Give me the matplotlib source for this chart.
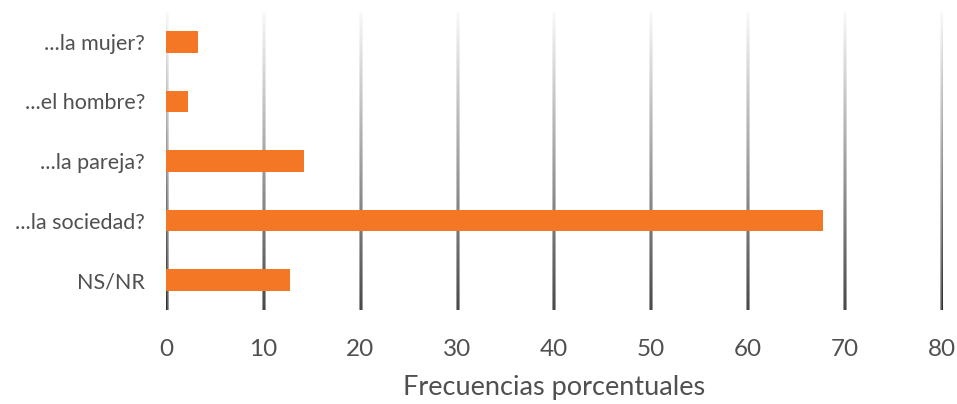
import numpy as np
import matplotlib
matplotlib.use("Agg")
import matplotlib.pyplot as plt

categories = ["...la mujer?", "...el hombre?", "...la pareja?", "...la sociedad?", "NS/NR"]
values = [3.3, 2.2, 14.2, 67.8, 12.8]
x_ticks = [0, 10, 20, 30, 40, 50, 60, 70, 80]
x_title = "Frecuencias porcentuales"

bar_color = "#F47725"
text_color = "#505050"

plt.rcParams["font.family"] = ["Lato", "DejaVu Sans"]

fig = plt.figure(figsize=(9.57, 4.04), dpi=100)
ax = fig.add_axes([166 / 957, 1 - 310 / 404, (942 - 166) / 957, (310 - 12) / 404])

n = len(categories)
y = np.arange(n)
ax.barh(y, values, height=0.36, color=bar_color, zorder=3)

# gradient gridlines: light at the top, dark at the bottom, with soft edges
rows = 256
top_c = np.array([0.97, 0.97, 0.97])
bot_c = np.array([0.10, 0.10, 0.10])
t = np.linspace(0, 1, rows)[:, None]
col = top_c * (1 - t) + bot_c * t
profile = np.array([0.45, 1.0, 0.45])
img = np.ones((rows, 3, 4))
for j, p in enumerate(profile):
    img[:, j, :3] = 1 - (1 - col) * p
half = 0.16
for xv in x_ticks:
    ax.imshow(img, extent=[xv - half, xv + half, n - 0.5, -0.5],
              aspect="auto", interpolation="bilinear", zorder=1)
ax.set_xlim(-0.05, 80.05)
ax.set_ylim(n - 0.5, -0.5)

ax.set_xticks(x_ticks)
ax.set_xticklabels([str(v) for v in x_ticks])
ax.set_yticks(y)
ax.set_yticklabels(categories)
ax.tick_params(axis="x", length=0, pad=21, labelsize=17.5, labelcolor=text_color)
ax.tick_params(axis="y", length=0, pad=15, labelsize=15.5, labelcolor=text_color)
for s in ax.spines.values():
    s.set_visible(False)

ax.set_xlabel(x_title, fontsize=19.5, color=text_color, labelpad=11)

fig.savefig("out.png", dpi=100)
